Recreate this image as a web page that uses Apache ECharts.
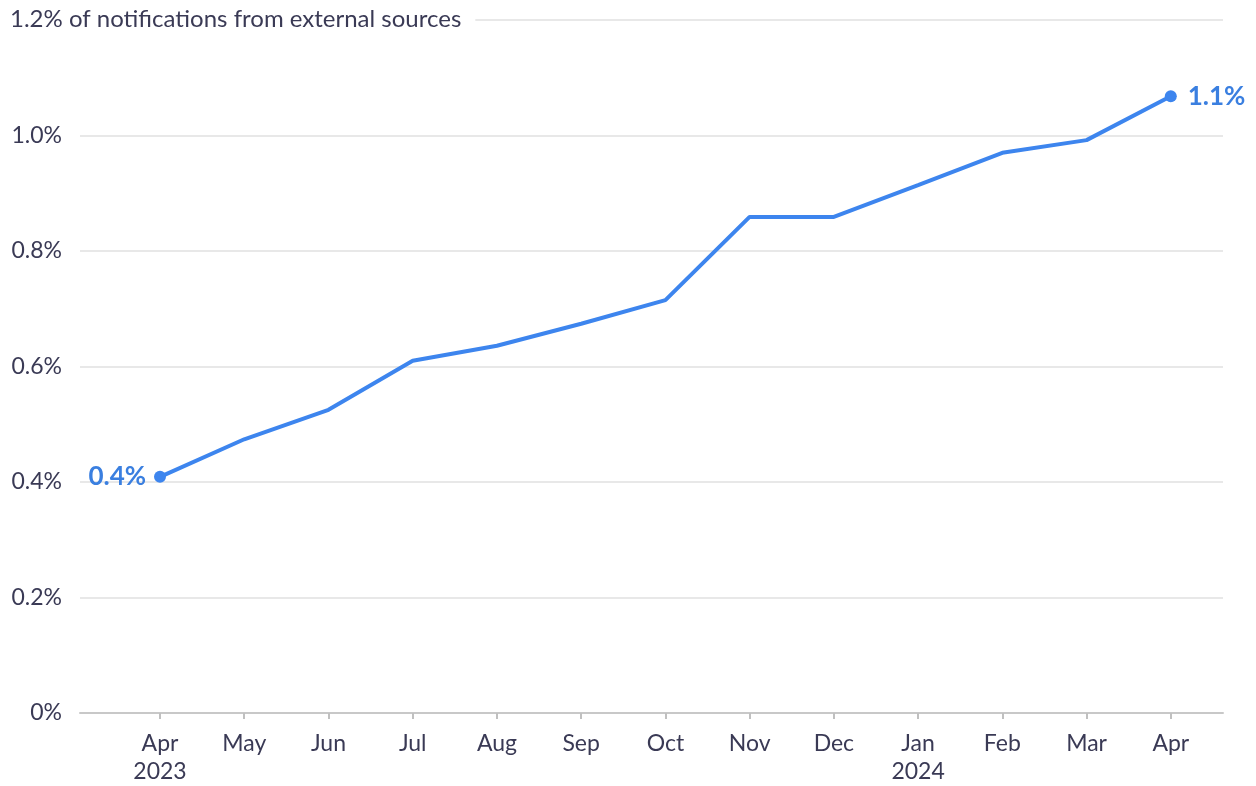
<!DOCTYPE html>
<html>
<head>
<meta charset="utf-8">
<script src="https://cdn.jsdelivr.net/npm/echarts@6/dist/echarts.min.js"></script>
<style>
  html, body { margin: 0; padding: 0; background: #fff; }
  #main { width: 1256px; height: 786px; }
</style>
</head>
<body>
<div id="main"></div>
<script>
var months = ['Apr', 'May', 'Jun', 'Jul', 'Aug', 'Sep', 'Oct', 'Nov', 'Dec', 'Jan', 'Feb', 'Mar', 'Apr'];
var years = { 0: '2023', 9: '2024' };
var share = [0.409, 0.474, 0.525, 0.610, 0.636, 0.674, 0.715, 0.859, 0.859, 0.914, 0.970, 0.992, 1.068];
var endLabels = ['0.4%', '1.1%'];
var yTitle = '1.2% of notifications from external sources';

var textColor = '#3a3a55';
var blue = '#3d85ee';
var font = 'Lato';

var chart = echarts.init(document.getElementById('main'));

var idx = months.map(function (m, i) { return i; });
var last = share.length - 1;

var points = share.map(function (v, i) {
  var item = { value: [i, v] };
  if (i === 0 || i === last) {
    item.label = {
      show: true,
      position: i === 0 ? 'left' : 'right',
      distance: i === 0 ? 8 : 11,
      formatter: i === 0 ? endLabels[0] : endLabels[1]
    };
  } else {
    item.symbol = 'none';
  }
  return item;
});

var option = {
  animation: false,
  title: {
    text: yTitle,
    left: 5,
    top: 4,
    padding: [3, 14, 3, 5],
    backgroundColor: '#fff',
    textStyle: { fontFamily: font, fontSize: 24, fontWeight: 'normal', color: textColor }
  },
  grid: { left: 80, right: 33, top: 20, bottom: 71 },
  xAxis: {
    type: 'value',
    min: -0.95,
    max: 12.62,
    splitLine: { show: false },
    axisLine: { show: true, lineStyle: { color: '#c8c8c8', width: 2 } },
    axisTick: {
      show: true,
      length: 6,
      customValues: idx,
      lineStyle: { color: '#c0c0c0', width: 2 }
    },
    axisLabel: {
      customValues: idx,
      margin: 17,
      fontFamily: font,
      fontSize: 23,
      lineHeight: 28,
      color: textColor,
      formatter: function (v) {
        var i = Math.round(v);
        return years[i] ? months[i] + '\n' + years[i] : months[i];
      }
    }
  },
  yAxis: {
    type: 'value',
    min: 0,
    max: 1.2,
    interval: 0.2,
    axisLine: { show: false },
    axisTick: { show: false },
    splitLine: { lineStyle: { color: '#e0e0e0', width: 1.5 } },
    axisLabel: {
      margin: 18,
      fontFamily: font,
      fontSize: 23,
      color: textColor,
      formatter: function (v) {
        if (v === 0) return '0%';
        if (v > 1.15) return '';
        return v.toFixed(1) + '%';
      }
    }
  },
  series: [
    {
      type: 'line',
      data: points,
      symbol: 'circle',
      symbolSize: 12,
      showSymbol: true,
      lineStyle: { color: blue, width: 4 },
      itemStyle: { color: blue },
      label: {
        fontFamily: font,
        fontSize: 26,
        fontWeight: 'bold',
        color: '#3a7fe0'
      },
      z: 3
    }
  ]
};

chart.setOption(option);
</script>
</body>
</html>
